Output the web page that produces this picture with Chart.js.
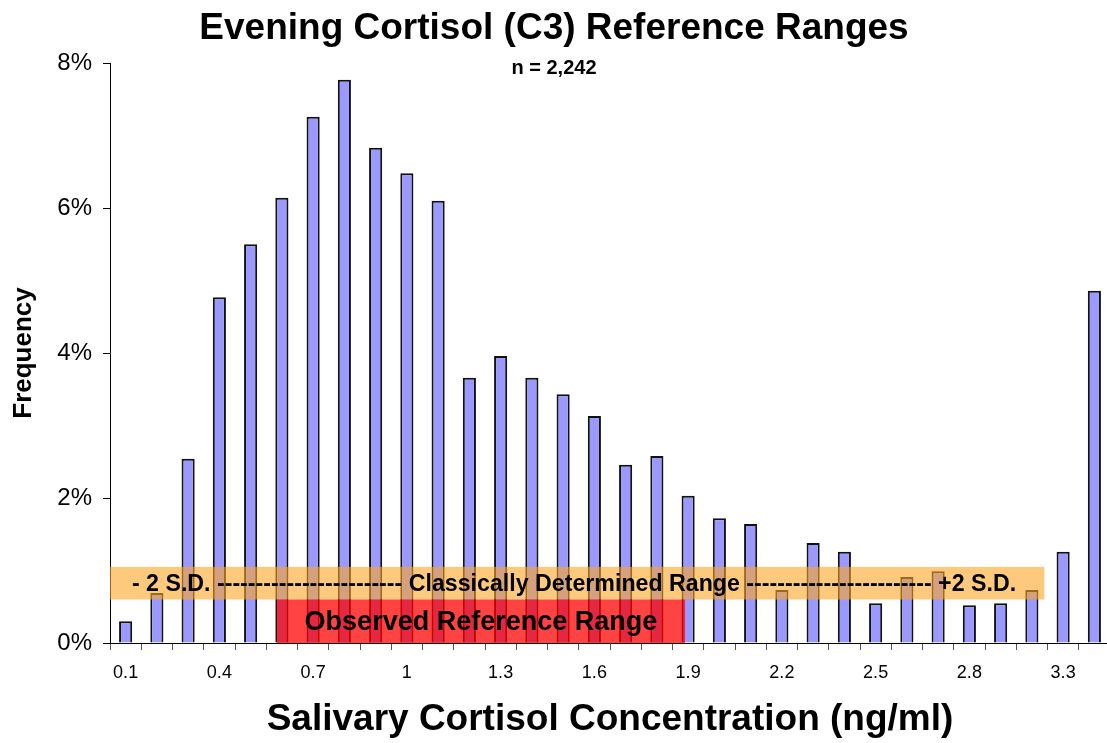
<!DOCTYPE html>
<html>
<head>
<meta charset="utf-8">
<script src="https://cdn.jsdelivr.net/npm/chart.js@4/dist/chart.umd.min.js"></script>
<style>
html,body{margin:0;padding:0;overflow:hidden;background:#fff;}
#wrap{position:absolute;left:0;top:0;width:1110px;height:743px;}
</style>
</head>
<body>
<div id="wrap"><canvas id="c"></canvas></div>
<script>
// ---- data ----
const categories = ["0.1","0.2","0.3","0.4","0.5","0.6","0.7","0.8","0.9","1",
  "1.1","1.2","1.3","1.4","1.5","1.6","1.7","1.8","1.9","2",
  "2.1","2.2","2.3","2.4","2.5","2.6","2.7","2.8","2.9","3",
  "3.3",">3.3"];
const frequency = [0.30,0.69,2.54,4.77,5.50,6.14,7.26,7.77,6.83,6.48,
  6.10,3.66,3.96,3.66,3.43,3.13,2.46,2.58,2.03,1.72,
  1.64,0.73,1.38,1.26,0.55,0.91,0.99,0.52,0.55,0.73,
  1.26,4.86];
const yTicks = [0,2,4,6,8];
const classicalRange = [0.05, 3.04];     // ng/ml  (-2 SD .. +2 SD)
const classicalBandPct = [0.60, 1.05];
const observedRange = [0.584, 1.89];     // ng/ml
const observedBandPct = [0, 0.60];
const titleText = "Evening Cortisol (C3) Reference Ranges";
const subtitleText = "n = 2,242";
const classicalLabel = "- 2 S.D. ------------------------ Classically Determined Range ------------------------ +2 S.D.";
const observedLabel = "Observed Reference Range";

const FONT = "'Liberation Sans', Arial, Helvetica, sans-serif";
const concToIndex = v => v * 10 - 1;

const overlay = {
  id: 'overlay',
  afterDatasetsDraw(chart) {
    const {ctx, scales: {x, y}} = chart;
    ctx.save();
    // classical band
    let x0 = x.getPixelForValue(concToIndex(classicalRange[0]));
    let x1 = x.getPixelForValue(concToIndex(classicalRange[1]));
    let y0 = y.getPixelForValue(classicalBandPct[1]);
    let y1 = y.getPixelForValue(classicalBandPct[0]);
    ctx.fillStyle = 'rgba(251,165,38,0.6)';
    ctx.fillRect(x0, y0, x1 - x0, y1 - y0);
    ctx.fillStyle = '#000';
    ctx.font = "bold 23.2px " + FONT;
    ctx.textAlign = 'center';
    ctx.textBaseline = 'middle';
    ctx.fillText(classicalLabel, 574, (y0 + y1) / 2 + 1);
    // observed band
    x0 = x.getPixelForValue(concToIndex(observedRange[0]));
    x1 = x.getPixelForValue(concToIndex(observedRange[1]));
    y0 = y.getPixelForValue(observedBandPct[1]);
    y1 = y.getPixelForValue(observedBandPct[0]);
    ctx.fillStyle = 'rgba(255,0,0,0.74)';
    ctx.fillRect(x0, y0, x1 - x0, y1 - y0);
    ctx.fillStyle = '#000';
    ctx.font = "bold 27px " + FONT;
    ctx.fillText(observedLabel, (x0 + x1) / 2, (y0 + y1) / 2 + 1);
    ctx.restore();
  },
  afterDraw(chart) {
    const ctx = chart.ctx;
    ctx.save();
    ctx.fillStyle = '#000';
    ctx.textAlign = 'center';
    ctx.textBaseline = 'middle';
    ctx.font = "bold 37px " + FONT;
    ctx.fillText(titleText, 554, 29);
    ctx.font = "bold 20px " + FONT;
    ctx.fillText(subtitleText, 554, 68);
    ctx.restore();
  }
};

new Chart(document.getElementById('c'), {
  type: 'bar',
  data: {
    labels: categories,
    datasets: [{
      data: frequency,
      backgroundColor: '#9999FF',
      borderColor: '#111',
      borderWidth: 2,
      barPercentage: 0.42,
      categoryPercentage: 1.0
    }]
  },
  options: {
    responsive: true,
    maintainAspectRatio: false,
    animation: false,
    layout: {padding: {top: 63, right: 0, bottom: 0, left: 0}},
    plugins: {legend: {display: false}, tooltip: {enabled: false}},
    scales: {
      x: {
        offset: true,
        grid: {display: true, drawOnChartArea: false, drawTicks: true, tickLength: 7, color: '#555', offset: true},
        border: {display: true, color: '#000', width: 1},
        ticks: {
          autoSkip: false, maxRotation: 0, color: '#000', padding: 12,
          font: {family: FONT, size: 18},
          callback: (v, i) => (i % 3 === 0 ? categories[i] : '')
        },
        title: {display: true, text: 'Salivary Cortisol Concentration (ng/ml)', color: '#000',
          font: {family: FONT, size: 37, weight: 'bold'}, padding: {top: 0, bottom: 1}},
        afterFit(s) { s.height = 100; }
      },
      y: {
        min: 0, max: 8,
        afterBuildTicks(s) { s.ticks = yTicks.map(v => ({value: v})); },
        grid: {display: true, drawOnChartArea: false, drawTicks: true, tickLength: 7, color: '#000'},
        border: {display: true, color: '#000', width: 1},
        ticks: {color: '#000', padding: 11, font: {family: FONT, size: 24},
          callback: v => v + '%'},
        title: {display: true, text: 'Frequency', color: '#000',
          font: {family: FONT, size: 26, weight: 'bold'}, padding: {top: 8, bottom: 0}},
        afterFit(s) { s.width = 110; }
      }
    }
  },
  plugins: [overlay]
});
</script>
</body>
</html>
